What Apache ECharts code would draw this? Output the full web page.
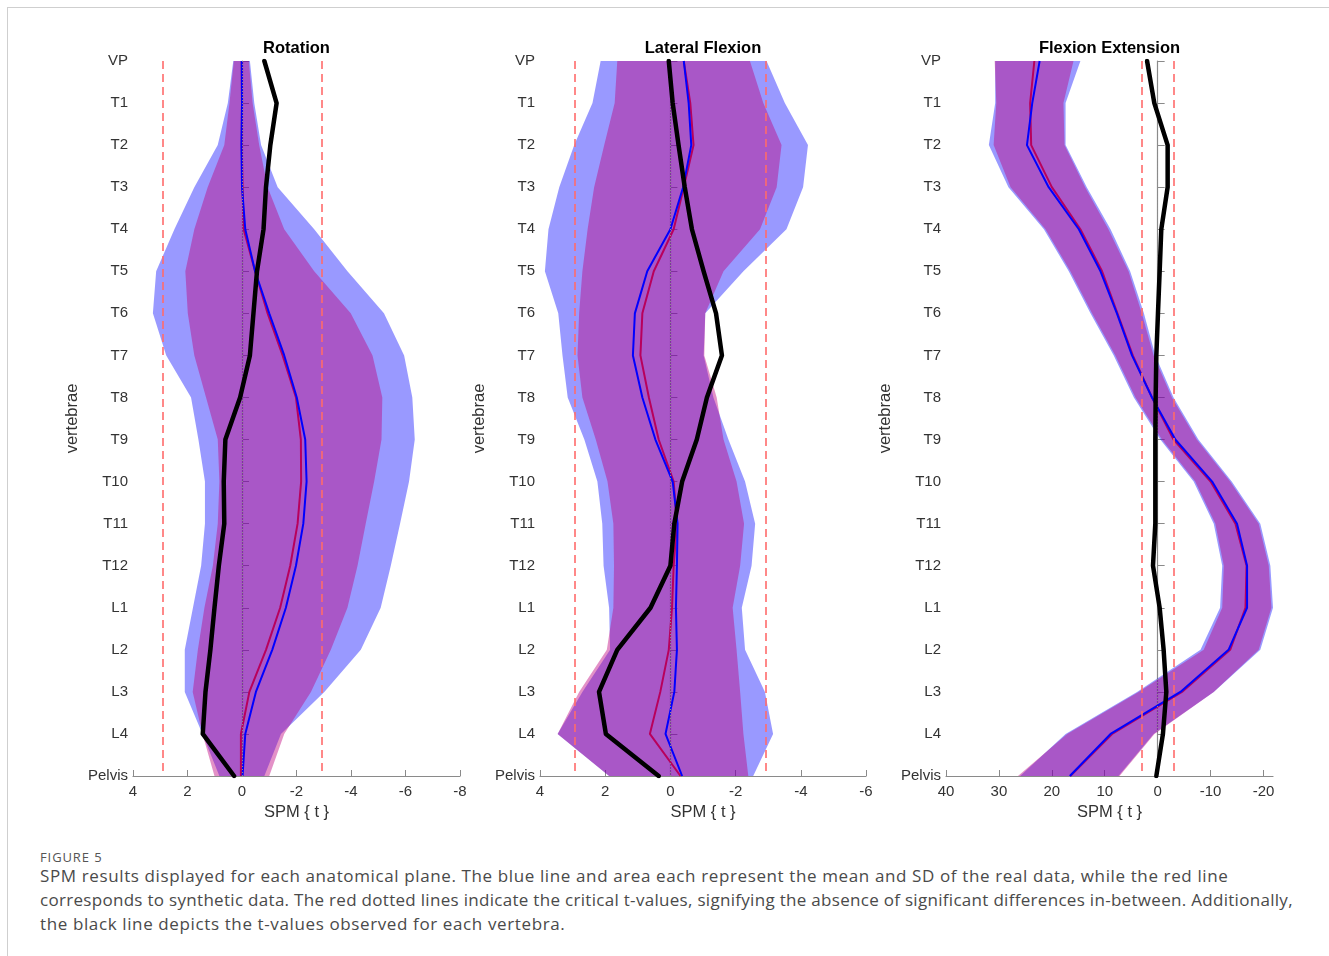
<!DOCTYPE html>
<html>
<head>
<meta charset="utf-8">
<script src="https://cdn.jsdelivr.net/npm/echarts@6.0.0/dist/echarts.min.js"></script>
<style>
  html, body { margin: 0; padding: 0; background: #fff; }
  #frame { position: absolute; left: 7px; top: 7px; width: 1322px; height: 949px;
           border-top: 1px solid #cfcfcf; border-left: 1px solid #cfcfcf; }
  #chart { position: absolute; left: 0; top: 0; width: 1329px; height: 845px; }
  .cap { position: absolute; left: 40px; font-family: "Open Sans", sans-serif; color: #4a4a4a; white-space: nowrap; }
  #capHead { top: 848px; font-size: 13px; letter-spacing: 0.9px; color: #555; }
  .capLine { font-size: 17px; }
</style>
</head>
<body>
<div id="frame"></div>
<div id="chart"></div>
<div id="capHead" class="cap">FIGURE 5</div>
<div class="cap capLine" style="top:864px; letter-spacing:0.62px">SPM results displayed for each anatomical plane. The blue line and area each represent the mean and SD of the real data, while the red line</div>
<div class="cap capLine" style="top:888px; letter-spacing:0.3px">corresponds to synthetic data. The red dotted lines indicate the critical t-values, signifying the absence of significant differences in-between. Additionally,</div>
<div class="cap capLine" style="top:912px; letter-spacing:0.62px">the black line depicts the t-values observed for each vertebra.</div>
<script>
// vertebra levels, top to bottom
const vertebrae = ['VP', 'T1', 'T2', 'T3', 'T4', 'T5', 'T6', 'T7', 'T8', 'T9', 'T10', 'T11', 'T12', 'L1', 'L2', 'L3', 'L4', 'Pelvis'];

// Rotation
const rotT        = [-0.82, -1.27, -1.04, -0.88, -0.79, -0.55, -0.42, -0.29, 0.07, 0.61, 0.67, 0.65, 0.85, 1.01, 1.16, 1.34, 1.44, 0.29];
const rotRealMean = [0.01, 0, 0.02, 0, -0.12, -0.48, -1.0, -1.55, -2.01, -2.32, -2.37, -2.25, -1.98, -1.61, -1.11, -0.51, -0.12, -0.02];
const rotSynMean  = [0.01, 0, 0.01, -0.02, -0.06, -0.48, -0.94, -1.49, -1.98, -2.16, -2.17, -2.04, -1.77, -1.40, -0.88, -0.27, 0.04, 0.04];
const rotRealLo   = [-0.29, -0.45, -0.70, -1.31, -2.65, -3.87, -5.21, -5.95, -6.25, -6.34, -6.13, -5.80, -5.46, -5.09, -4.36, -3.02, -1.43, -0.82];
const rotRealHi   = [0.32, 0.52, 0.89, 1.75, 2.48, 3.15, 3.27, 2.78, 1.87, 1.60, 1.36, 1.36, 1.50, 1.80, 2.10, 2.10, 1.45, 0.83];
const rotSynLo    = [-0.25, -0.39, -0.63, -0.94, -1.55, -2.65, -3.99, -4.79, -5.15, -5.12, -4.85, -4.54, -4.24, -3.87, -3.26, -2.53, -1.55, -1.0];
const rotSynHi    = [0.30, 0.46, 0.65, 1.26, 1.75, 2.08, 1.99, 1.75, 1.32, 0.89, 0.83, 0.89, 1.07, 1.38, 1.62, 1.81, 1.45, 1.01];

// Lateral Flexion
const latT        = [0.05, -0.07, -0.25, -0.44, -0.66, -1.02, -1.40, -1.58, -1.12, -0.81, -0.36, -0.12, 0, 0.61, 1.63, 2.19, 1.98, 0.36];
const latRealMean = [-0.41, -0.56, -0.64, -0.39, 0, 0.71, 1.09, 1.15, 0.86, 0.46, -0.07, -0.22, -0.20, -0.17, -0.20, -0.12, 0.15, -0.36];
const latSynMean  = [-0.41, -0.61, -0.71, -0.41, -0.10, 0.51, 0.86, 0.92, 0.66, 0.36, -0.10, -0.20, -0.10, -0.05, 0.05, 0.31, 0.63, -0.31];
const latRealLo   = [-2.95, -3.51, -4.22, -4.07, -3.56, -2.24, -1.07, -1.02, -1.32, -1.78, -2.29, -2.60, -2.49, -2.19, -2.29, -2.90, -3.15, -2.54];
const latRealHi   = [2.14, 2.39, 2.95, 3.41, 3.74, 3.85, 3.44, 3.31, 3.15, 2.64, 2.24, 2.09, 2.05, 1.88, 1.85, 2.70, 3.46, 1.88];
const latSynLo    = [-2.44, -2.85, -3.41, -3.26, -2.75, -1.63, -1.07, -1.04, -1.42, -1.63, -2.03, -2.26, -2.14, -1.91, -2.03, -2.14, -2.24, -2.39];
const latSynHi    = [1.63, 1.71, 2.03, 2.34, 2.54, 2.70, 2.80, 2.85, 2.70, 2.29, 1.93, 1.75, 1.73, 1.75, 1.95, 2.80, 3.46, 1.88];

// Flexion Extension
const flxT        = [2.0, 0.63, -1.89, -1.89, -0.69, -0.38, -0.06, 0.25, 0.38, 0.44, 0.44, 0.44, 0.88, -0.38, -1.13, -1.64, -1.0, 0.25];
const flxRealMean = [22.3, 23.7, 24.7, 20.6, 14.9, 10.8, 7.7, 4.85, 1.07, -3.34, -10.3, -15.0, -16.9, -16.9, -13.4, -4.3, 8.9, 16.6];
const flxSynMean  = [23.3, 24.1, 23.9, 20.0, 14.6, 10.5, 7.6, 4.7, 1.07, -3.0, -10.0, -14.7, -16.8, -16.6, -13.7, -4.6, 8.6, 16.5];
const flxRealLo   = [14.6, 17.4, 17.4, 13.4, 8.9, 5.2, 2.6, 0.44, -3.0, -7.7, -14.0, -19.4, -21.3, -21.8, -19.4, -10.6, 0.76, 7.4];
const flxRealHi   = [30.7, 30.7, 31.9, 28.2, 21.5, 16.8, 12.7, 8.3, 4.5, -0.5, -6.8, -10.6, -12.2, -11.8, -8.1, 3.9, 17.4, 26.0];
const flxSynLo    = [15.9, 17.8, 17.6, 13.7, 9.3, 5.5, 3.0, 0.76, -2.7, -7.4, -13.7, -19.1, -21.0, -21.5, -19.1, -10.6, 0.6, 7.2];
const flxSynHi    = [30.8, 30.5, 31.0, 27.8, 21.2, 16.5, 12.4, 8.0, 4.2, -0.8, -7.1, -10.9, -12.5, -12.2, -8.7, 3.6, 17.1, 26.4];

// critical t thresholds
const critT = [2.92, 2.94, 3.0];

// axis ticks
const rotTicks = [4, 2, 0, -2, -4, -6, -8];
const latTicks = [4, 2, 0, -2, -4, -6];
const flxTicks = [40, 30, 20, 10, 0, -10, -20];

const titles = ['Rotation', 'Lateral Flexion', 'Flexion Extension'];

const panels = [
  { t: rotT, rm: rotRealMean, sm: rotSynMean, rl: rotRealLo, rh: rotRealHi, sl: rotSynLo, sh: rotSynHi, ticks: rotTicks, min: -8, max: 4 },
  { t: latT, rm: latRealMean, sm: latSynMean, rl: latRealLo, rh: latRealHi, sl: latSynLo, sh: latSynHi, ticks: latTicks, min: -6, max: 4 },
  { t: flxT, rm: flxRealMean, sm: flxSynMean, rl: flxRealLo, rh: flxRealHi, sl: flxSynLo, sh: flxSynHi, ticks: flxTicks, min: -21.8, max: 40 }
];

const gridBox = [
  { left: 133, width: 327 },
  { left: 540, width: 326 },
  { left: 946, width: 327 }
];

const FONT = '"Liberation Sans", Arial, sans-serif';
const AXIS_COLOR = '#8a8a8a';
const LABEL_COLOR = '#333333';

const chart = echarts.init(document.getElementById('chart'), null, { renderer: 'canvas' });

const grid = [], xAxis = [], yAxis = [], series = [], graphic = [];

panels.forEach((p, i) => {
  grid.push({ left: gridBox[i].left, width: gridBox[i].width, top: 61, height: 715, containLabel: false });

  xAxis.push({
    gridIndex: i,
    type: 'value',
    inverse: true,
    min: p.min,
    max: p.max,
    name: 'SPM { t }',
    nameLocation: 'middle',
    nameGap: 27,
    nameTextStyle: { color: LABEL_COLOR, fontSize: 16.5, fontFamily: FONT },
    axisLine: { show: true, lineStyle: { color: AXIS_COLOR, width: 1.2 } },
    axisTick: { show: true, inside: true, length: 6, customValues: p.ticks, lineStyle: { color: AXIS_COLOR } },
    axisLabel: { color: LABEL_COLOR, fontSize: 15, fontFamily: FONT, margin: 8, customValues: p.ticks },
    splitLine: { show: false }
  });

  yAxis.push({
    gridIndex: i,
    type: 'category',
    data: vertebrae,
    inverse: true,
    boundaryGap: false,
    name: 'vertebrae',
    nameLocation: 'middle',
    nameRotate: 90,
    nameGap: 52,
    nameTextStyle: { color: LABEL_COLOR, fontSize: 16.5, fontFamily: FONT },
    axisLine: { show: true, lineStyle: { color: AXIS_COLOR, width: 1.2 } },
    axisTick: { show: true, inside: true, length: 7, lineStyle: { color: AXIS_COLOR } },
    axisLabel: { color: LABEL_COLOR, fontSize: 15, fontFamily: FONT, margin: 5, interval: 0 },
    splitLine: { show: false }
  });

  const base = { xAxisIndex: i, yAxisIndex: i, type: 'line', symbol: 'none', silent: true, animation: false };

  // real data SD band (blue)
  series.push(Object.assign({}, base, {
    name: 'realLo' + i, stack: 'real' + i, stackStrategy: 'all', z: 1,
    data: p.rl, lineStyle: { opacity: 0 }
  }));
  series.push(Object.assign({}, base, {
    name: 'realBand' + i, stack: 'real' + i, stackStrategy: 'all', z: 1,
    data: p.rh.map((v, k) => +(v - p.rl[k]).toFixed(3)),
    lineStyle: { opacity: 0 },
    areaStyle: { color: 'rgba(0,0,255,0.40)', opacity: 1 }
  }));
  // synthetic data SD band (red)
  series.push(Object.assign({}, base, {
    name: 'synLo' + i, stack: 'syn' + i, stackStrategy: 'all', z: 1,
    data: p.sl, lineStyle: { opacity: 0 }
  }));
  series.push(Object.assign({}, base, {
    name: 'synBand' + i, stack: 'syn' + i, stackStrategy: 'all', z: 1,
    data: p.sh.map((v, k) => +(v - p.sl[k]).toFixed(3)),
    lineStyle: { opacity: 0 },
    areaStyle: { color: 'rgba(190,0,125,0.43)', opacity: 1 }
  }));
  // synthetic mean (red) + reference lines
  series.push(Object.assign({}, base, {
    name: 'synMean' + i, z: 3, data: p.sm,
    lineStyle: { color: '#b8005c', width: 2 },
    markLine: {
      silent: true, symbol: 'none', animation: false,
      label: { show: false },
      data: [
        { xAxis: critT[i], lineStyle: { color: '#ff6b6b', type: [8, 5], width: 1.6 } },
        { xAxis: -critT[i], lineStyle: { color: '#ff6b6b', type: [8, 5], width: 1.6 } },
        { xAxis: 0, lineStyle: { color: '#8c8c8c', type: [1, 2], width: 1 } }
      ]
    }
  }));
  // real mean (blue)
  series.push(Object.assign({}, base, {
    name: 'realMean' + i, z: 4, data: p.rm,
    lineStyle: { color: '#0000ff', width: 2 }
  }));
  // t-values (black)
  series.push(Object.assign({}, base, {
    name: 't' + i, z: 5, data: p.t,
    lineStyle: { color: '#000000', width: 4.5, cap: 'round', join: 'round' }
  }));

  graphic.push({
    type: 'text',
    x: gridBox[i].left + gridBox[i].width / 2,
    y: 48,
    style: {
      text: titles[i],
      align: 'center',
      verticalAlign: 'middle',
      fill: '#000',
      font: 'bold 16.5px ' + FONT
    }
  });
});

chart.setOption({
  animation: false,
  grid, xAxis, yAxis, series, graphic
});
</script>
</body>
</html>
